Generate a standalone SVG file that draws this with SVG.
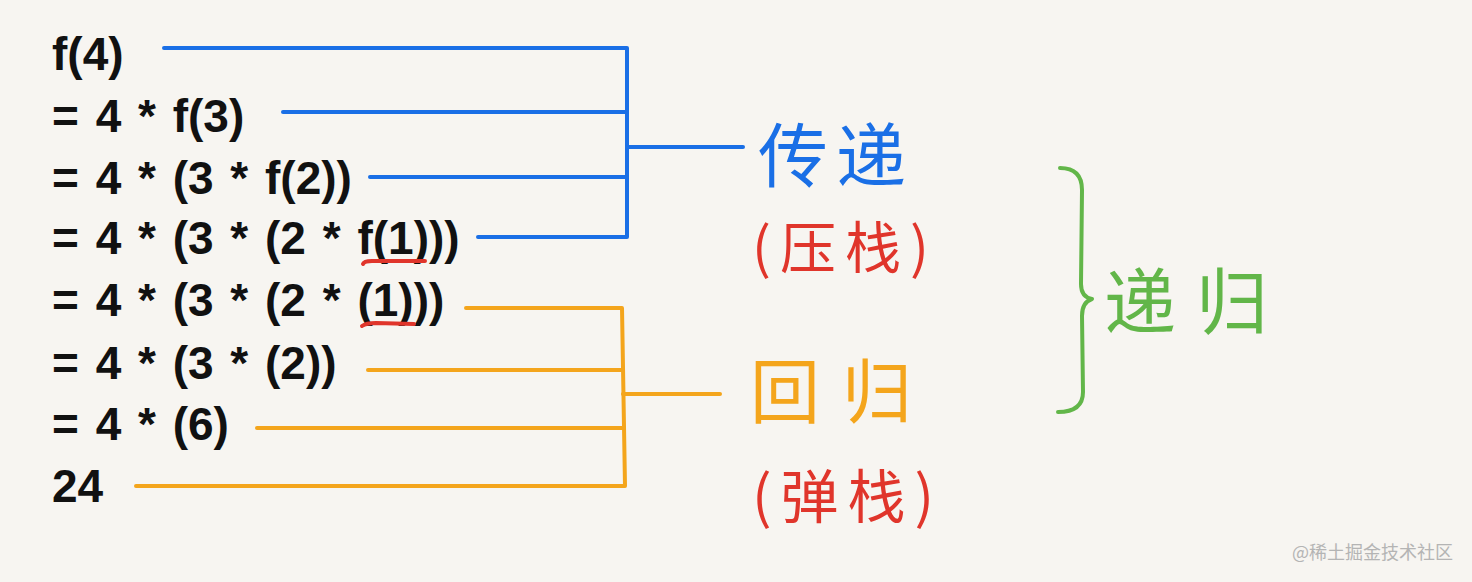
<svg xmlns="http://www.w3.org/2000/svg" width="1472" height="582" viewBox="0 0 1472 582">
  <style>
    .eq { font-family: "Liberation Sans", Arial, sans-serif; font-weight: bold; font-size: 46px; fill: #111; word-spacing: 4px; }
    .hw { font-family: "Noto Sans CJK SC", "Noto Sans", sans-serif; font-weight: 400; }
    .blue { stroke: #1a6fe6; }
    .orange { stroke: #f4a51c; }
    .ln { fill: none; stroke-width: 4; stroke-linecap: round; stroke-linejoin: round; }
    .ul { fill: none; stroke: #e0352b; stroke-width: 4; stroke-linecap: round; }
  </style>
  <rect width="1472" height="582" fill="#f7f5f1"/>

  <g id="equations">
    <g id="row1"><text class="eq" x="52" y="70">f(4)</text></g>
    <g id="row2"><text class="eq" x="52" y="132">= 4 * f(3)</text></g>
    <g id="row3"><text class="eq" x="52" y="194">= 4 * (3 * f(2))</text></g>
    <g id="row4"><text class="eq" x="52" y="254">= 4 * (3 * (2 * f(1)))</text></g>
    <g id="row5"><text class="eq" x="52" y="316">= 4 * (3 * (2 * (1)))</text></g>
    <g id="row6"><text class="eq" x="52" y="379">= 4 * (3 * (2))</text></g>
    <g id="row7"><text class="eq" x="52" y="440">= 4 * (6)</text></g>
    <g id="row8"><text class="eq" x="52" y="502">24</text></g>
  </g>

  <g id="underlines">
    <path class="ul" d="M363,264 Q364,261 372,261 L425,261"/>
    <path class="ul" d="M362,326 Q366,323 376,323 L414,324"/>
  </g>

  <g id="connectors">
    <g id="push-lines" class="ln blue">
      <path d="M164,48 L627,48 L627,237 L478,237"/>
      <path d="M283,112 L627,112"/>
      <path d="M370,177 L627,177"/>
      <path d="M627,147 L743,147"/>
    </g>
    <g id="pop-lines" class="ln orange">
      <path d="M466,308 L622,308 L625,486 L136,486"/>
      <path d="M368,370 L623,370"/>
      <path d="M257,428 L624,428"/>
      <path d="M623,394 L720,394"/>
    </g>
    <g id="brace">
      <path class="ln" stroke="#62b649" d="M1060,168 Q1082,168 1082,190 L1081,284 Q1081,297 1092,299 Q1082,302 1082,316 L1083,392 Q1083,412 1058,412"/>
    </g>
  </g>

  <g id="label-push">
    <text class="hw" x="758" y="182" font-size="70" letter-spacing="8" fill="#1a6fe6">传递</text>
    <text class="hw" x="752" y="268" font-size="56" letter-spacing="9" fill="#e0352b">(压栈)</text>
  </g>
  <g id="label-pop">
    <text class="hw" x="750" y="418" font-size="70" letter-spacing="22" fill="#f4a51c">回归</text>
    <text class="hw" x="752" y="518" font-size="58" letter-spacing="9" fill="#e0352b">(弹栈)</text>
  </g>
  <g id="label-recursion">
    <text class="hw" x="1104" y="328" font-size="72" letter-spacing="20" fill="#62b649">递归</text>
  </g>

  <text x="1292" y="559" font-family="'Noto Sans CJK SC', 'Noto Sans', sans-serif" font-size="18" fill="#b4b4b4">@稀土掘金技术社区</text>
</svg>
